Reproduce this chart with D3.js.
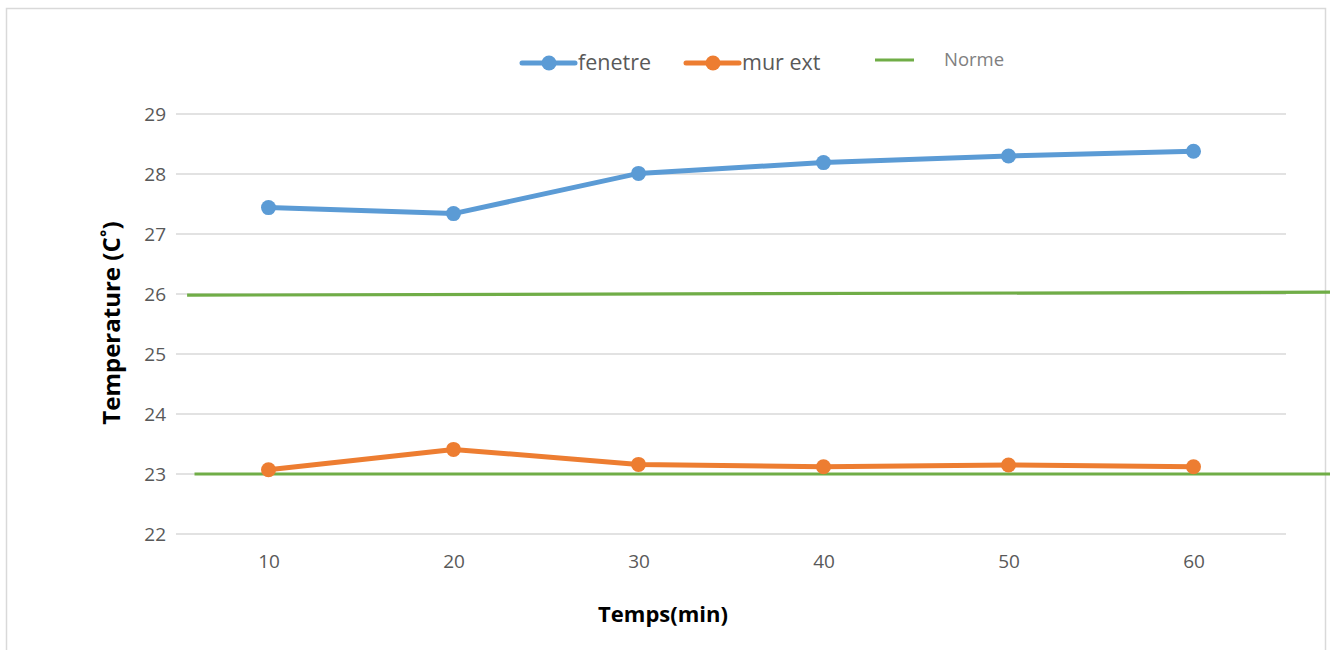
<!DOCTYPE html>
<html>
<head>
<meta charset="utf-8">
<script src="https://cdn.jsdelivr.net/npm/d3@7"></script>
<style>
  html, body { margin: 0; padding: 0; background: #fff; }
  svg { display: block; font-family: "Open Sans", sans-serif; }
</style>
</head>
<body>
<svg id="chart" width="1330" height="650"></svg>
<script>
// Measurement times (minutes)
const minutes = [10, 20, 30, 40, 50, 60];
// Temperatures (°C)
const fenetre = [27.44, 27.34, 28.01, 28.19, 28.30, 28.38];
const murExt  = [23.07, 23.41, 23.16, 23.12, 23.15, 23.12];
// Reference limits ("Norme"), as [minute, temperature] end points
const normeHaute = [[5.6, 25.98], [67.5, 26.03]];
const normeBasse = [[6.0, 23.0], [67.5, 23.0]];
const yTicks = [22, 23, 24, 25, 26, 27, 28, 29];

const FONT = "'Open Sans', sans-serif";
const svg = d3.select("#chart");

// Chart frame
svg.append("rect")
  .attr("x", 6.5).attr("y", 8.5)
  .attr("width", 1319).attr("height", 660)
  .attr("fill", "#fff").attr("stroke", "#d9d9d9").attr("stroke-width", 1.5);

const plot = { left: 176, right: 1286, top: 114, bottom: 534 };

// Each category occupies a 10-minute slot centred on its value
const x = d3.scaleLinear().domain([5, 65]).range([plot.left, plot.right]);
const y = d3.scaleLinear().domain([22, 29]).range([plot.bottom, plot.top]);

// Horizontal gridlines
svg.append("g")
  .selectAll("line")
  .data(yTicks)
  .join("line")
  .attr("x1", plot.left).attr("x2", plot.right)
  .attr("y1", d => y(d)).attr("y2", d => y(d))
  .attr("stroke", "#d9d9d9").attr("stroke-width", 1.5);

// Y axis labels
const yAxis = d3.axisLeft(y).tickValues(yTicks).tickSize(0).tickPadding(10).tickFormat(d3.format("d"));
svg.append("g")
  .attr("transform", `translate(${plot.left},0)`)
  .call(yAxis)
  .call(g => g.select(".domain").remove())
  .call(g => g.selectAll("text")
    .attr("fill", "#595959").attr("font-size", 19).attr("font-family", FONT));

// X axis labels
const xAxis = d3.axisBottom(x).tickValues(minutes).tickSize(0).tickPadding(21).tickFormat(d3.format("d"));
svg.append("g")
  .attr("transform", `translate(0,${plot.bottom})`)
  .call(xAxis)
  .call(g => g.select(".domain").remove())
  .call(g => g.selectAll("text")
    .attr("fill", "#595959").attr("font-size", 19).attr("font-family", FONT));

// Axis titles
svg.append("text")
  .attr("x", 663).attr("y", 622)
  .attr("text-anchor", "middle")
  .attr("font-weight", "bold").attr("font-size", 22).attr("fill", "#000")
  .text("Temps(min)");

svg.append("text")
  .attr("transform", "translate(120,323) rotate(-90)")
  .attr("text-anchor", "middle")
  .attr("font-weight", "bold").attr("font-size", 24).attr("fill", "#000")
  .text("Temperature (C˚)");

// Norme lines
const normeLine = d3.line().x(d => x(d[0])).y(d => y(d[1]));
[normeHaute, normeBasse].forEach(seg => {
  svg.append("path")
    .attr("d", normeLine(seg))
    .attr("fill", "none").attr("stroke", "#70ad47").attr("stroke-width", 3.2);
});

// Data series
const series = [
  { name: "fenetre", values: fenetre, color: "#5b9bd5" },
  { name: "mur ext", values: murExt, color: "#ed7d31" }
];
const line = d3.line().x((d, i) => x(minutes[i])).y(d => y(d));

series.forEach(s => {
  svg.append("path")
    .attr("d", line(s.values))
    .attr("fill", "none").attr("stroke", s.color)
    .attr("stroke-width", 5).attr("stroke-linejoin", "round");
  svg.append("g")
    .selectAll("circle")
    .data(s.values)
    .join("circle")
    .attr("cx", (d, i) => x(minutes[i]))
    .attr("cy", d => y(d))
    .attr("r", 7.5)
    .attr("fill", s.color);
});

// Legend
const legend = svg.append("g");
const legendItems = [
  { name: "fenetre", color: "#5b9bd5", x0: 522 },
  { name: "mur ext", color: "#ed7d31", x0: 686 }
];
legendItems.forEach(it => {
  legend.append("line")
    .attr("x1", it.x0).attr("x2", it.x0 + 53)
    .attr("y1", 63).attr("y2", 63)
    .attr("stroke", it.color).attr("stroke-width", 5).attr("stroke-linecap", "round");
  legend.append("circle")
    .attr("cx", it.x0 + 27).attr("cy", 63).attr("r", 7.5).attr("fill", it.color);
  legend.append("text")
    .attr("x", it.x0 + 56).attr("y", 70)
    .attr("font-size", 21.5).attr("fill", "#595959")
    .text(it.name);
});
legend.append("line")
  .attr("x1", 875).attr("x2", 914)
  .attr("y1", 60).attr("y2", 60)
  .attr("stroke", "#70ad47").attr("stroke-width", 3.2);
legend.append("text")
  .attr("x", 944).attr("y", 66)
  .attr("font-size", 18.5).attr("fill", "#808080")
  .text("Norme");
</script>
</body>
</html>
